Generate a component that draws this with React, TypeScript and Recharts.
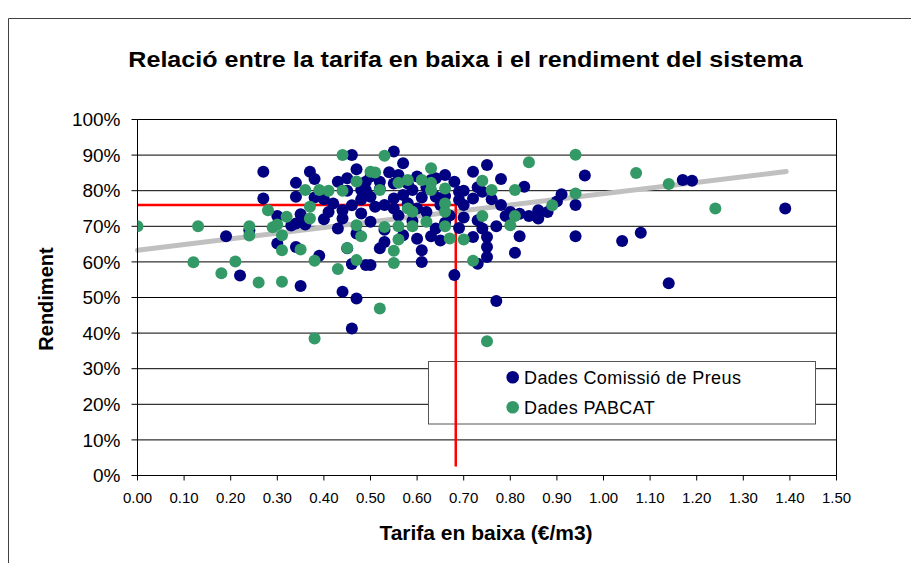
import React from 'react';
import { ScatterChart, Scatter, XAxis, YAxis, CartesianGrid, ReferenceLine, Customized } from 'recharts';

const FONT = '"Liberation Sans", Arial, sans-serif';

const chartTitle = 'Relació entre la tarifa en baixa i el rendiment del sistema';
const xTitle = 'Tarifa en baixa (€/m3)';
const yTitle = 'Rendiment';
const seriesNames = ['Dades Comissió de Preus', 'Dades PABCAT'];
const seriesColors = ['#000080', '#339966'];

const xTicks = [0, 0.1, 0.2, 0.3, 0.4, 0.5, 0.6, 0.7, 0.8, 0.9, 1.0, 1.1, 1.2, 1.3, 1.4, 1.5];
const yTicks = [0, 10, 20, 30, 40, 50, 60, 70, 80, 90, 100];

// [tarifa €/m3, rendiment %]
const comissioPreus: [number, number][] = [
  [0.19, 67.2], [0.22, 56.2], [0.24, 68.9], [0.27, 85.3], [0.27, 77.8], [0.30, 72.9], [0.30, 65.2],
  [0.34, 64.2], [0.35, 53.2], [0.39, 61.7], [0.34, 78.3], [0.34, 82.2], [0.37, 85.3], [0.38, 83.3],
  [0.35, 73.4], [0.34, 70.8], [0.33, 70.2], [0.36, 70.5], [0.38, 78.1], [0.40, 77.6], [0.43, 82.5],
  [0.45, 83.5], [0.46, 90.0], [0.47, 86.0], [0.48, 80.2], [0.46, 75.9], [0.48, 73.6], [0.42, 76.4],
  [0.44, 74.5], [0.44, 72.2], [0.43, 69.4], [0.47, 68.0], [0.45, 63.8], [0.46, 59.4], [0.49, 59.1],
  [0.44, 51.6], [0.47, 49.7], [0.46, 41.3],
  [0.55, 91.0], [0.57, 87.7], [0.54, 85.2], [0.49, 82.5], [0.49, 80.2], [0.52, 82.5], [0.56, 84.4],
  [0.59, 80.2], [0.66, 84.4], [0.64, 83.5], [0.61, 78.1], [0.64, 78.3], [0.69, 79.7], [0.72, 85.3],
  [0.75, 87.2], [0.78, 83.3], [0.83, 81.1], [0.91, 79.0], [0.96, 84.3], [0.94, 76.0], [0.94, 67.2],
  [0.86, 74.5], [0.86, 72.2], [0.84, 72.9], [0.79, 72.9], [0.77, 70.0], [0.82, 67.2], [0.81, 62.6],
  [0.75, 64.2], [0.75, 67.0], [0.75, 61.4], [0.73, 59.5], [0.73, 71.7], [0.74, 69.4], [0.72, 67.0],
  [0.69, 77.4], [0.72, 77.8], [0.74, 79.7], [0.76, 77.6], [0.68, 56.3], [0.63, 67.2], [0.61, 60.0],
  [0.61, 63.3], [0.64, 69.4], [0.52, 63.8], [0.53, 65.6], [0.50, 59.1], [0.50, 71.3], [0.57, 78.8],
  [0.55, 77.8], [0.50, 78.3], [0.51, 75.5], [0.53, 76.0], [0.55, 75.0], [0.58, 76.5], [0.60, 75.0],
  [0.62, 74.0], [0.65, 76.0], [0.67, 73.0], [0.70, 76.0], [0.78, 76.0], [0.80, 74.0], [0.82, 73.5],
  [0.88, 74.0], [0.90, 77.0], [0.77, 49.0], [1.04, 65.9], [1.08, 68.2], [1.14, 54.0], [1.17, 83.0],
  [1.19, 82.8], [1.39, 75.0],
  [0.52, 80.5], [0.55, 82.0], [0.58, 82.0], [0.62, 81.0], [0.60, 84.0], [0.63, 83.0], [0.68, 82.5],
  [0.70, 80.0], [0.73, 81.0], [0.66, 78.5], [0.56, 73.0], [0.59, 71.5], [0.66, 71.0], [0.70, 72.5],
  [0.48, 77.5], [0.50, 84.0], [0.45, 80.0], [0.41, 74.0], [0.40, 72.0], [0.53, 69.0], [0.57, 67.5],
  [0.65, 66.0], [0.60, 66.5], [0.69, 69.5],
];

const pabcat: [number, number][] = [
  [0.00, 70.0], [0.13, 70.0], [0.12, 59.9], [0.18, 56.8], [0.21, 60.1], [0.24, 70.0], [0.24, 67.4],
  [0.26, 54.2], [0.31, 54.4], [0.28, 74.5], [0.29, 69.7], [0.30, 70.5], [0.31, 67.5], [0.31, 63.3],
  [0.32, 72.7], [0.35, 63.5], [0.36, 80.2], [0.39, 80.2], [0.41, 80.0], [0.37, 72.2], [0.37, 75.5],
  [0.38, 60.3], [0.44, 90.0], [0.44, 80.0], [0.47, 82.6], [0.45, 63.9], [0.47, 60.5], [0.43, 58.0],
  [0.47, 70.3], [0.48, 67.2], [0.50, 85.3], [0.38, 38.5], [0.52, 46.9], [0.75, 37.7],
  [0.53, 89.8], [0.51, 85.1], [0.63, 86.3], [0.56, 82.2], [0.58, 83.0], [0.61, 83.0], [0.63, 82.2],
  [0.66, 80.6], [0.63, 80.2], [0.52, 80.2], [0.74, 82.8], [0.76, 80.2], [0.84, 88.0], [0.94, 90.1],
  [0.94, 79.2], [0.89, 75.9], [0.81, 80.2], [0.66, 76.4], [0.58, 75.0], [0.59, 74.1], [0.66, 74.1],
  [0.62, 71.3], [0.59, 70.0], [0.56, 70.0], [0.53, 69.8], [0.66, 70.0], [0.74, 72.9], [0.81, 72.9],
  [0.80, 70.3], [0.56, 66.3], [0.55, 63.1], [0.55, 59.7], [0.67, 66.6], [0.70, 66.3], [0.72, 60.3],
  [1.07, 85.0], [1.14, 81.9], [1.24, 75.0],
];

const trendStart = { x: 0, y: 63.3 };
const trendEnd = { x: 1.392, y: 85.4 };
const guideX = 0.683;
const guideY = 76;
const guideBottom = 2.5;

const toPoints = (arr: [number, number][]) => arr.map(([x, y]) => ({ x, y }));
const preusData = toPoints(comissioPreus);
const pabcatData = toPoints(pabcat);

const makeDot = (color: string) => (props: any) => {
  if (props.cx == null || props.cy == null) return <g />;
  return <circle cx={props.cx} cy={props.cy} r={6} fill={color} />;
};

const LegendBox = () => (
  <g>
    <rect x={428.5} y={361.5} width={387} height={62.5} fill="#fff" stroke="#555" strokeWidth={1} />
    {seriesNames.map((name, i) => (
      <g key={name}>
        <circle cx={512.7} cy={377.3 + i * 30} r={6.3} fill={seriesColors[i]} />
        <text x={524} y={383.6 + i * 30} fontFamily={FONT} fontSize={18} letterSpacing={0.4} fill="#000">
          {name}
        </text>
      </g>
    ))}
  </g>
);

export default function App() {
  return (
    <div style={{ position: 'absolute', left: 0, top: 0, width: 911, height: 563, background: '#fff' }}>
      <svg width={911} height={563} style={{ position: 'absolute', left: 0, top: 0 }}>
        <line x1={8.5} y1={18.5} x2={911} y2={18.5} stroke="#404040" strokeWidth={1} />
        <line x1={8.5} y1={18.5} x2={8.5} y2={563} stroke="#404040" strokeWidth={1} />
        <g transform="translate(465.5 67.3) scale(1.14 1)">
          <text x={0} y={0} textAnchor="middle" fontFamily={FONT} fontWeight="bold" fontSize={22} fill="#000">
            {chartTitle}
          </text>
        </g>
        <text x={486} y={540} textAnchor="middle" fontFamily={FONT} fontWeight="bold" fontSize={21} fill="#000">
          {xTitle}
        </text>
        <text x={52.7} y={299} transform="rotate(-90 52.7 299)" textAnchor="middle" fontFamily={FONT} fontWeight="bold" fontSize={20} fill="#000">
          {yTitle}
        </text>
      </svg>
      <div style={{ position: 'absolute', left: 0, top: 0 }}>
        <ScatterChart width={911} height={563} margin={{ top: 119.5, right: 74.5, bottom: 47.5, left: 57.5 }}>
          <CartesianGrid vertical={false} stroke="#000" strokeOpacity={1} />
          <XAxis
            type="number"
            dataKey="x"
            domain={[0, 1.5]}
            ticks={xTicks}
            interval={0}
            tickFormatter={(v: number) => v.toFixed(2)}
            height={40}
            tickSize={5}
            tickMargin={12}
            axisLine={{ stroke: '#000' }}
            tickLine={{ stroke: '#000' }}
            tick={{ fill: '#000', fontSize: 15, fontFamily: FONT }}
            allowDataOverflow
          />
          <YAxis
            type="number"
            dataKey="y"
            domain={[0, 100]}
            ticks={yTicks}
            interval={0}
            tickFormatter={(v: number) => `${v}%`}
            width={80}
            tickSize={6}
            tickMargin={11}
            axisLine={{ stroke: '#000' }}
            tickLine={{ stroke: '#000' }}
            tick={{ fill: '#000', fontSize: 19, fontFamily: FONT }}
            allowDataOverflow
          />
          <ReferenceLine x={1.5} stroke="#000" strokeWidth={1} />
          <Scatter name={seriesNames[0]} data={preusData} fill={seriesColors[0]} shape={makeDot(seriesColors[0])} isAnimationActive={false} />
          <Scatter name={seriesNames[1]} data={pabcatData} fill={seriesColors[1]} shape={makeDot(seriesColors[1])} isAnimationActive={false} />
          <ReferenceLine segment={[trendStart, trendEnd]} stroke="#C0C0C0" strokeWidth={5} strokeLinecap="round" />
          <Customized component={LegendBox} />
          <ReferenceLine segment={[{ x: 0, y: guideY }, { x: guideX, y: guideY }]} stroke="#FF0000" strokeWidth={2.5} />
          <ReferenceLine segment={[{ x: guideX, y: guideY }, { x: guideX, y: guideBottom }]} stroke="#FF0000" strokeWidth={2.5} />
        </ScatterChart>
      </div>
    </div>
  );
}
